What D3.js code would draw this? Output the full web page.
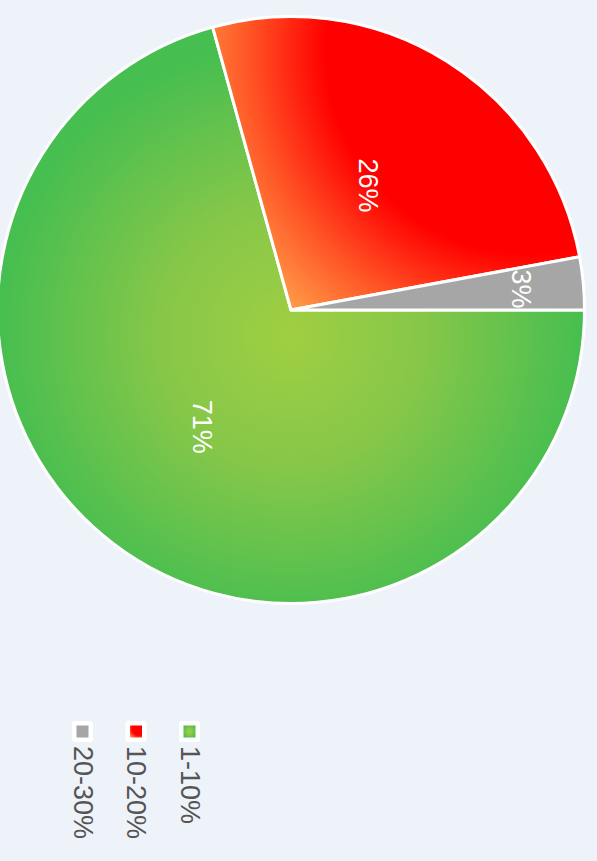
<!DOCTYPE html>
<html>
<head>
<meta charset="utf-8">
<script src="https://cdn.jsdelivr.net/npm/d3@7"></script>
<style>
  html, body { margin: 0; padding: 0; background: #eef3fa; }
  svg { display: block; }
</style>
</head>
<body>
<div id="graf"></div>
<script>
// Pastel girado 90 grados (como el original)
//

// Datos
categorias = ['1-10%', '10-20%', '20-30%']
valores    = [70.7, 26.4, 2.9]
etiquetas  = ['71%', '26%', '3%']

ancho_total = 597
alto_total  = 861
centro = { x: 291, y: 310 }
radio  = 293.5

fuente = '"Liberation Sans", Arial, sans-serif'

// Gradientes: rebanadas en fracciones del cuadro del pastel,
// leyenda en fracciones del cuadrito
gradientes = [
  { cx: 0.5,   cy: 0.543, r: 0.5, ley: [0.5, 0.5, 0.6],
    stops: [[0, '#a0cf42'], [0.45, '#86c749'], [1, '#46be50']] },
  { cx: 0.907, cy: 0.057, r: 0.6, ley: [0.75, 0.25, 1.0],
    stops: [[0, '#ff0000'], [0.58, '#ff0000'], [0.8, '#ff5526'], [1, '#ff9c48']] },
  { cx: 0.5,   cy: 0.5,   r: 0.5, ley: [0.5, 0.5, 0.5],
    stops: [[0, '#a6a6a6'], [1, '#a6a6a6']] }
]

svg = d3.select('#graf').append('svg')
        .attr('width', ancho_total)
        .attr('height', alto_total)

svg.append('rect')
  .attr('width', ancho_total)
  .attr('height', alto_total)
  .attr('fill', '#eef3fa')

defs = svg.append('defs')

gradientes.forEach((gr, i) => {
  // para las rebanadas: relativo al pastel completo
  gs = defs.append('radialGradient')
    .attr('id', `gs${i}`)
    .attr('gradientUnits', 'userSpaceOnUse')
    .attr('cx', -radio + gr.cx * 2 * radio)
    .attr('cy', -radio + gr.cy * 2 * radio)
    .attr('r', gr.r * 2 * radio)
  // para la leyenda: relativo al cuadrito
  gl = defs.append('radialGradient')
    .attr('id', `gl${i}`)
    .attr('cx', gr.ley[0])
    .attr('cy', gr.ley[1])
    .attr('r', gr.ley[2])
  gr.stops.forEach(s => {
    gs.append('stop').attr('offset', s[0]).attr('stop-color', s[1])
    gl.append('stop').attr('offset', s[0]).attr('stop-color', s[1])
  })
})

datos = categorias.map((c, i) => ({ cat: c, valor: valores[i], etiqueta: etiquetas[i], i: i }))

pie = d3.pie()
        .sort(null)
        .value(d => d.valor)
        .startAngle(Math.PI / 2)
        .endAngle(Math.PI / 2 + 2 * Math.PI)

arc = d3.arc().innerRadius(0).outerRadius(radio)

g = svg.append('g')
        .attr('transform', `translate(${ centro.x }, ${ centro.y })`)

arcos = pie(datos)

g.selectAll('path')
  .data(arcos)
  .enter()
  .append('path')
    .attr('d', arc)
    .attr('fill', d => `url(#gs${ d.data.i })`)
    .attr('stroke', 'white')
    .attr('stroke-width', 3)
    .attr('stroke-linejoin', 'round')

// Etiquetas: las rebanadas chicas se empujan hacia afuera
function posEtiqueta(d) {
  r = (d.endAngle - d.startAngle) < 0.3 ? radio * 1.58 : radio
  return d3.arc().innerRadius(0).outerRadius(r).centroid(d)
}

g.selectAll('text')
  .data(arcos)
  .enter()
  .append('text')
    .attr('transform', d => `translate(${ posEtiqueta(d) }) rotate(90)`)
    .attr('text-anchor', 'middle')
    .attr('dy', '0.35em')
    .attr('font-family', fuente)
    .attr('font-size', '27px')
    .attr('fill', 'white')
    .text(d => d.data.etiqueta)

// Leyenda
xl = d3.scalePoint()
        .domain(categorias.slice().reverse())
        .range([82.5, 189.5])

items = svg.append('g')
  .selectAll('g')
  .data(datos)
  .enter()
  .append('g')
    .attr('transform', d => `translate(${ xl(d.cat) }, 0)`)

items.append('rect')
  .attr('x', -10.5)
  .attr('y', 721)
  .attr('width', 21)
  .attr('height', 21)
  .attr('rx', 3)
  .attr('fill', 'white')

items.append('rect')
  .attr('x', -6)
  .attr('y', 725.5)
  .attr('width', 12)
  .attr('height', 12)
  .attr('fill', d => `url(#gl${ d.i })`)

items.append('text')
  .attr('transform', 'translate(-9, 746) rotate(90)')
  .attr('font-family', fuente)
  .attr('font-size', '27px')
  .attr('fill', '#555555')
  .text(d => d.cat)
</script>
</body>
</html>
